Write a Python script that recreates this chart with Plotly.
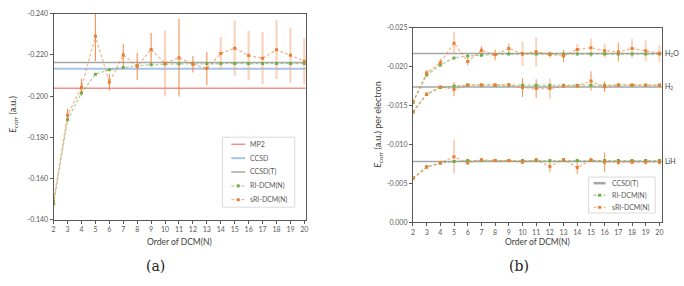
import plotly.graph_objects as go

# ---------------- data ----------------
orders = list(range(2, 21))

# panel (a)
mp2 = -0.2038
ccsd = -0.2133
ccsd_t = -0.2163
ri_dcm_a = [-0.1477, -0.1886, -0.2015, -0.2106, -0.2128, -0.2139, -0.2148, -0.2152, -0.2156,
            -0.2157, -0.2157, -0.2158, -0.2158, -0.2158, -0.2158, -0.2158, -0.2158, -0.2158, -0.2158]
sri_dcm_a = [-0.1491, -0.1908, -0.2043, -0.2291, -0.2068, -0.2200, -0.2145, -0.2227, -0.2159,
             -0.2186, -0.2155, -0.2134, -0.2207, -0.2233, -0.2197, -0.2184, -0.2225, -0.2199, -0.2170]
sri_err_a = [0.0005, 0.0030, 0.0040, 0.0120, 0.0040, 0.0055, 0.0065, 0.0080, 0.0160,
             0.0188, 0.0040, 0.0080, 0.0080, 0.0134, 0.0120, 0.0126, 0.0142, 0.0134, 0.0112]
light_err_a = [10, 14, 15, 16, 17, 18, 19, 20]

# panel (b)
molecules = ["H<sub>2</sub>O", "H<sub>2</sub>", "LiH"]
mol_keys = ["H2O", "H2", "LiH"]
ccsd_t_b = [-0.02166, -0.01737, -0.00779]
ri_dcm_b = {
    "H2O": [-0.0154, -0.0189, -0.0202, -0.0211, -0.02137, -0.02146, -0.02154, -0.0216, -0.0216,
            -0.0216, -0.0216, -0.0216, -0.0216, -0.0216, -0.0216, -0.0216, -0.0216, -0.0216, -0.0216],
    "H2": [-0.01416, -0.01645, -0.0173, -0.0175, -0.0176, -0.0176, -0.0176, -0.0176, -0.0176,
           -0.0176, -0.0176, -0.0176, -0.0176, -0.0176, -0.0176, -0.0176, -0.0176, -0.0176, -0.0176],
    "LiH": [-0.00562, -0.00708, -0.00758, -0.00779, -0.0079, -0.0079, -0.0079, -0.0079, -0.0079,
            -0.0079, -0.0079, -0.0079, -0.0079, -0.0079, -0.0079, -0.0079, -0.0079, -0.0079, -0.0079],
}
sri_dcm_b = {
    "H2O": [-0.0154, -0.01916, -0.0205, -0.0230, -0.02066, -0.02208, -0.0215, -0.02233, -0.02163,
            -0.02191, -0.02154, -0.02137, -0.0222, -0.02241, -0.02204, -0.02187, -0.02233, -0.02204, -0.0217],
    "H2": [-0.01416, -0.01645, -0.01737, -0.01708, -0.01763, -0.01763, -0.01763, -0.01766, -0.01729,
           -0.01716, -0.01716, -0.0175, -0.0175, -0.01813, -0.01741, -0.01763, -0.01763, -0.0176, -0.0176],
    "LiH": [-0.00562, -0.00708, -0.00758, -0.00841, -0.00758, -0.0080, -0.0079, -0.0079, -0.0077,
            -0.0080, -0.00716, -0.00804, -0.0070, -0.0080, -0.0077, -0.00766, -0.0077, -0.0077, -0.0077],
}
sri_err_b = {
    "H2O": [0.0002, 0.0004, 0.0005, 0.0015, 0.0005, 0.0005, 0.0007, 0.0006, 0.00156,
            0.0019, 0.0004, 0.0008, 0.0007, 0.0012, 0.0009, 0.0012, 0.0012, 0.00135, 0.0011],
    "H2": [0.0001, 0.0002, 0.0002, 0.0009, 0.0002, 0.0002, 0.0002, 0.0002, 0.0012,
           0.0012, 0.0013, 0.0002, 0.0002, 0.00125, 0.0007, 0.0002, 0.0002, 0.0002, 0.0002],
    "LiH": [0.0001, 0.0002, 0.0002, 0.0022, 0.0002, 0.0002, 0.0002, 0.0002, 0.0002,
            0.0002, 0.0008, 0.0002, 0.0008, 0.0002, 0.00125, 0.0004, 0.0003, 0.0003, 0.0003],
}
light_err_b = {"H2O": [5, 10, 11, 14, 15, 16, 18, 19, 20], "H2": [12], "LiH": [5, 17]}

yticks_a = [-0.240, -0.220, -0.200, -0.180, -0.160, -0.140]
yticks_b = [-0.025, -0.020, -0.015, -0.010, -0.005, 0.000]
legend_a = ["MP2", "CCSD", "CCSD(T)", "RI-DCM(N)", "sRI-DCM(N)"]
legend_b = ["CCSD(T)", "RI-DCM(N)", "sRI-DCM(N)"]

# ---------------- style ----------------
RED = "rgba(236,110,100,0.75)"
BLUE = "rgba(150,185,230,0.85)"
GRAY = "#A6A6A6"
GREEN = "#70AD47"
GREEN_L = "rgba(112,173,71,0.55)"
ORANGE = "#ED7D31"
ORANGE_L = "rgba(237,125,49,0.55)"
ERR_DARK = "rgba(237,125,49,0.85)"
ERR_LIGHT = "rgba(240,160,110,0.45)"
AXC = "#595959"
FONT = "Lato"
DASH = "3px,2px"
W, H = 684, 286

fig = go.Figure()
XMAX_A = 20.1
XMAX_B = 20.2


def hline(x0, x1, y, color, width, xa, ya):
    fig.add_trace(go.Scatter(x=[x0, x1], y=[y, y], mode="lines",
                             line=dict(color=color, width=width), xaxis=xa, yaxis=ya,
                             showlegend=False, hoverinfo="skip"))


def err_trace(xs, ys, es, keep, color, width, xa, ya):
    xx = [x for x in xs if keep(x)]
    yy = [y for x, y in zip(xs, ys) if keep(x)]
    ee = [e for x, e in zip(xs, es) if keep(x)]
    fig.add_trace(go.Scatter(x=xx, y=yy, mode="markers", marker=dict(size=1, opacity=0),
                             error_y=dict(type="data", array=ee, visible=True, color=color,
                                          thickness=width, width=0),
                             xaxis=xa, yaxis=ya, showlegend=False, hoverinfo="skip"))


def series(xs, ys, lcolor, mcolor, xa, ya):
    fig.add_trace(go.Scatter(x=xs, y=ys, mode="lines+markers",
                             line=dict(color=lcolor, width=1.3, dash=DASH),
                             marker=dict(color=mcolor, size=3, symbol="square"),
                             xaxis=xa, yaxis=ya, showlegend=False))


# ---- panel (a) ----
hline(orders[0], XMAX_A, mp2, RED, 1.5, "x", "y")
hline(orders[0], XMAX_A, ccsd, BLUE, 2, "x", "y")
hline(orders[0], XMAX_A, ccsd_t, GRAY, 1.5, "x", "y")
err_trace(orders, sri_dcm_a, sri_err_a, lambda x: x not in light_err_a, ERR_DARK, 1.1, "x", "y")
err_trace(orders, sri_dcm_a, sri_err_a, lambda x: x in light_err_a, ERR_LIGHT, 2.2, "x", "y")
series(orders, ri_dcm_a, GREEN_L, GREEN, "x", "y")
series(orders, sri_dcm_a, ORANGE_L, ORANGE, "x", "y")

# ---- panel (b) ----
for i in range(3):
    hline(orders[0], XMAX_B, ccsd_t_b[i], GRAY, 1.5, "x2", "y2")
for m in mol_keys:
    err_trace(orders, sri_dcm_b[m], sri_err_b[m], lambda x, m=m: x not in light_err_b[m],
              ERR_DARK, 1.0, "x2", "y2")
    err_trace(orders, sri_dcm_b[m], sri_err_b[m], lambda x, m=m: x in light_err_b[m],
              ERR_LIGHT, 2.0, "x2", "y2")
for m in mol_keys:
    series(orders, ri_dcm_b[m], GREEN_L, GREEN, "x2", "y2")
for m in mol_keys:
    series(orders, sri_dcm_b[m], ORANGE_L, ORANGE, "x2", "y2")


def px_x(p):
    return p / W


def px_y(p):
    return 1 - p / H


axis_common = dict(showline=True, linecolor=AXC, linewidth=1.2, mirror=True,
                   ticks="outside", ticklen=3, tickcolor=AXC, tickwidth=1,
                   showgrid=False, zeroline=False,
                   tickfont=dict(family=FONT, size=7, color=AXC))

fig.update_layout(
    width=W, height=H, margin=dict(l=0, r=0, t=0, b=0),
    paper_bgcolor="white", plot_bgcolor="white", showlegend=False,
    font=dict(family=FONT, color=AXC),
    xaxis=dict(domain=[px_x(52), px_x(306)], range=[orders[0], XMAX_A],
               tickvals=orders, ticktext=[str(o) for o in orders], anchor="y", **axis_common),
    yaxis=dict(domain=[px_y(221), px_y(9)], range=[yticks_a[-1], yticks_a[0]],
               tickvals=yticks_a, ticktext=[f"{v:.3f}" for v in yticks_a], anchor="x",
               **axis_common),
    xaxis2=dict(domain=[px_x(414), px_x(665)], range=[orders[0], XMAX_B],
                tickvals=orders, ticktext=[str(o) for o in orders], anchor="y2", **axis_common),
    yaxis2=dict(domain=[px_y(223.3), px_y(23.3)], range=[yticks_b[-1], yticks_b[0]],
                tickvals=yticks_b, ticktext=[f"{v:.3f}" for v in yticks_b], anchor="x2",
                **axis_common),
)

shapes = []
ann = []

# ---- custom legends (paper coordinates from pixel layout) ----
leg_styles = {
    "MP2": dict(color=RED, width=1.5, dash="solid", marker=None),
    "CCSD": dict(color=BLUE, width=2, dash="solid", marker=None),
    "CCSD(T)": dict(color=GRAY, width=1.5, dash="solid", marker=None),
    "RI-DCM(N)": dict(color=GREEN_L, width=1.3, dash=DASH, marker=GREEN),
    "sRI-DCM(N)": dict(color=ORANGE_L, width=1.3, dash=DASH, marker=ORANGE),
}


def build_legend(names, box, row0, dy, lx0, lx1, tx, thick_gray=False):
    x0, y0, x1, y1 = box
    shapes.append(dict(type="rect", xref="paper", yref="paper",
                       x0=px_x(x0), x1=px_x(x1), y0=px_y(y1), y1=px_y(y0),
                       line=dict(color="#D9D9D9", width=1), fillcolor="white", layer="above"))
    for k, n in enumerate(names):
        st = leg_styles[n]
        yy = row0 + k * dy
        w = st["width"]
        if thick_gray and n == "CCSD(T)":
            w = 2.5
        shapes.append(dict(type="line", xref="paper", yref="paper",
                           x0=px_x(lx0), x1=px_x(lx1), y0=px_y(yy), y1=px_y(yy),
                           line=dict(color=st["color"], width=w, dash=st["dash"]), layer="above"))
        if st["marker"]:
            xm = (lx0 + lx1) / 2
            shapes.append(dict(type="rect", xref="paper", yref="paper",
                               x0=px_x(xm - 1.5), x1=px_x(xm + 1.5),
                               y0=px_y(yy + 1.5), y1=px_y(yy - 1.5),
                               line=dict(width=0), fillcolor=st["marker"], layer="above"))
        ann.append(dict(text=n, x=px_x(tx), y=px_y(yy), xref="paper", yref="paper",
                        showarrow=False, xanchor="left", yanchor="middle",
                        font=dict(family=FONT, size=7, color=AXC)))


build_legend(legend_a, (222, 136, 295, 208), 143.3, 14.25, 231, 245, 248)
build_legend(legend_b, (591, 177, 658, 214), 183.3, 12.4, 596, 608, 612, thick_gray=True)

# axis titles
for cx in [(52 + 306) / 2, (414 + 665) / 2]:
    ann.append(dict(text="Order of DCM(N)", x=px_x(cx), y=px_y(244),
                    xref="paper", yref="paper", showarrow=False,
                    font=dict(family=FONT, size=8.5, color="#404040"),
                    xanchor="center", yanchor="middle"))
ann.append(dict(text="<i>E</i><sub>corr</sub> (a.u.)", x=px_x(11), y=px_y(112),
                xref="paper", yref="paper", showarrow=False, textangle=-90,
                font=dict(family=FONT, size=9, color="#404040"), xanchor="center", yanchor="middle"))
ann.append(dict(text="<i>E</i><sub>corr</sub> (a.u.) per electron", x=px_x(378), y=px_y(123),
                xref="paper", yref="paper", showarrow=False, textangle=-90,
                font=dict(family=FONT, size=9, color="#404040"), xanchor="center", yanchor="middle"))
# molecule labels
for i, lab in enumerate(molecules):
    ann.append(dict(text=lab, x=XMAX_B, y=ccsd_t_b[i], xref="x2", yref="y2", showarrow=False,
                    xanchor="left", yanchor="middle", xshift=1,
                    font=dict(family=FONT, size=7, color="#404040")))
# captions
ann.append(dict(text="(a)", x=px_x(155), y=px_y(268), xref="paper", yref="paper", showarrow=False,
                font=dict(family="DejaVu Serif", size=14, color="#222"), xanchor="center", yanchor="middle"))
ann.append(dict(text="(b)", x=px_x(521), y=px_y(268), xref="paper", yref="paper", showarrow=False,
                font=dict(family="DejaVu Serif", size=14, color="#222"), xanchor="center", yanchor="middle"))
fig.update_layout(annotations=ann, shapes=shapes)

fig.write_html("out.html")
